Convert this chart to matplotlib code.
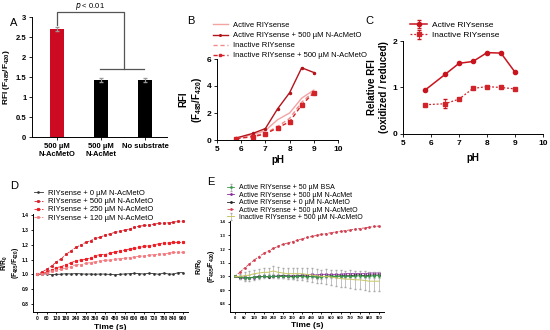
import numpy as np
import matplotlib
matplotlib.use('Agg')
import matplotlib.pyplot as plt

plt.rcParams['font.family'] = ['Liberation Sans', 'DejaVu Sans']
plt.rcParams['mathtext.default'] = 'regular'
plt.rcParams['axes.linewidth'] = 0.7
plt.rcParams['xtick.major.width'] = 0.6
plt.rcParams['ytick.major.width'] = 0.6
plt.rcParams['xtick.major.size'] = 2.5
plt.rcParams['ytick.major.size'] = 2.5

# ---- panel A data
a_labels = ['500 µM\nN-AcMetO', '500 µM\nN-AcMet', 'No substrate']
a_values = [2.70, 1.43, 1.43]
a_errors = [0.06, 0.05, 0.05]
a_colors = ['#cc0a22', 'black', 'black']

# ---- panel B data
ph = [5.8, 6.5, 7.0, 7.5, 8.0, 8.5, 9.0]
b_active = [0.15, 0.40, 0.70, 1.50, 2.00, 3.10, 3.70]
b_active_metO = [0.15, 0.50, 0.85, 2.30, 3.50, 5.35, 5.00]
b_inactive = [0.10, 0.30, 0.50, 1.00, 1.60, 2.80, 3.60]
b_inactive_metO = [0.10, 0.25, 0.45, 0.90, 1.35, 2.60, 3.50]

# ---- panel C data
c_active = [0.95, 1.28, 1.52, 1.56, 1.75, 1.74, 1.33]
c_active_err = [0.02, 0.02, 0.02, 0.02, 0.02, 0.02, 0.02]
c_inactive = [0.63, 0.65, 0.75, 0.98, 1.02, 1.00, 0.97]
c_inactive_err = [0.02, 0.10, 0.02, 0.02, 0.02, 0.02, 0.02]

# ---- panel D data (every 30 s)
time = list(range(0, 901, 30))
d_0 = [1.000, 1.002, 1.004, 0.998, 1.000, 1.002, 1.005, 1.003, 1.006, 1.004, 1.002,
       1.003, 1.001, 1.003, 1.002, 1.000, 0.998, 1.001, 1.003, 1.005, 1.008, 1.005,
       1.003, 1.008, 1.006, 1.001, 1.009, 1.003, 1.002, 1.012, 1.012]
d_500 = [1.000, 1.016, 1.034, 1.057, 1.085, 1.107, 1.137, 1.160, 1.183, 1.200, 1.217,
         1.229, 1.245, 1.252, 1.268, 1.275, 1.286, 1.293, 1.302, 1.308, 1.320, 1.327,
         1.332, 1.336, 1.341, 1.346, 1.348, 1.350, 1.355, 1.360, 1.361]
d_250 = [1.000, 1.007, 1.016, 1.030, 1.046, 1.053, 1.066, 1.080, 1.092, 1.098, 1.103,
         1.110, 1.126, 1.135, 1.135, 1.144, 1.153, 1.158, 1.165, 1.172, 1.176, 1.183,
         1.190, 1.195, 1.200, 1.208, 1.213, 1.213, 1.217, 1.217, 1.217]
d_120 = [1.000, 1.005, 1.011, 1.020, 1.027, 1.039, 1.041, 1.053, 1.066, 1.066, 1.075,
         1.080, 1.087, 1.092, 1.096, 1.098, 1.103, 1.107, 1.110, 1.114, 1.119, 1.123,
         1.126, 1.130, 1.135, 1.137, 1.140, 1.144, 1.149, 1.149, 1.151]

# ---- panel E data (every 30 s)
e_bsa = [1.000, 0.995, 0.990, 0.990, 0.995, 0.995, 1.000, 1.000, 1.000, 1.000, 1.000,
         1.000, 0.995, 1.000, 1.000, 0.995, 1.000, 0.995, 0.995, 1.000, 1.000, 1.000,
         1.000, 1.000, 1.000, 1.000, 1.005, 1.000, 1.000, 1.005, 1.005]
e_bsa_err = [0.000, 0.015, 0.020, 0.020, 0.020, 0.015, 0.015, 0.015, 0.015, 0.015, 0.015,
             0.015, 0.015, 0.015, 0.015, 0.015, 0.015, 0.015, 0.015, 0.015, 0.015, 0.015,
             0.015, 0.015, 0.015, 0.015, 0.015, 0.015, 0.015, 0.015, 0.015]
e_met = [1.000, 0.990, 0.985, 0.990, 0.990, 0.995, 1.000, 1.000, 1.000, 1.005, 1.005,
         1.005, 1.005, 1.005, 1.010, 1.010, 1.015, 1.010, 1.015, 1.015, 1.015, 1.015,
         1.015, 1.020, 1.020, 1.020, 1.020, 1.020, 1.025, 1.025, 1.025]
e_0 = [1.000, 0.995, 0.995, 0.990, 0.995, 1.000, 1.000, 0.995, 1.000, 1.000, 1.005,
       1.000, 1.000, 1.000, 1.005, 1.000, 1.000, 0.995, 1.000, 1.000, 1.005, 1.000,
       1.005, 1.005, 1.005, 1.010, 1.010, 1.005, 1.010, 1.010, 1.010]
e_metO = [1.000, 1.030, 1.062, 1.090, 1.120, 1.145, 1.168, 1.188, 1.205, 1.220, 1.235,
          1.245, 1.255, 1.265, 1.275, 1.285, 1.292, 1.300, 1.307, 1.313, 1.320, 1.325,
          1.330, 1.335, 1.340, 1.345, 1.350, 1.355, 1.360, 1.365, 1.368]
e_inact = [1.000, 1.000, 1.005, 1.010, 1.020, 1.025, 1.030, 1.030, 1.040, 1.030, 1.025,
           1.020, 1.020, 1.020, 1.020, 1.015, 1.010, 1.005, 1.000, 1.000, 0.995, 0.990,
           0.985, 0.980, 0.980, 0.975, 0.975, 0.970, 0.965, 0.965, 0.965]
e_inact_err = [0.000, 0.020, 0.030, 0.030, 0.030, 0.030, 0.030, 0.030, 0.035, 0.040, 0.040,
               0.040, 0.040, 0.045, 0.045, 0.045, 0.050, 0.050, 0.050, 0.055, 0.055, 0.060,
               0.060, 0.060, 0.065, 0.065, 0.065, 0.070, 0.070, 0.070, 0.070]


def style(ax, fs=6):
    ax.spines['top'].set_visible(False)
    ax.spines['right'].set_visible(False)
    ax.tick_params(labelsize=fs, pad=1.5)
    for lab in ax.get_xticklabels() + ax.get_yticklabels():
        lab.set_fontweight('bold')


fig = plt.figure(figsize=(5.5, 3.3), dpi=100)

def px(x0, y_top, x1, y_bot):
    # axes rect from pixel coordinates
    return [x0 / 550, 1 - y_bot / 330, (x1 - x0) / 550, (y_bot - y_top) / 330]

# ================= A
axA = fig.add_axes(px(32, 17, 167, 137))
xa = np.arange(len(a_values))
axA.bar(xa, a_values, width=0.32, color=a_colors, yerr=a_errors,
        error_kw=dict(ecolor='#999999', elinewidth=0.8, capsize=1.5))
axA.set_xlim(-0.57, 2.5)
axA.set_ylim(0, 3)
axA.set_yticks([0, 0.5, 1, 1.5, 2, 2.5, 3])
axA.set_yticklabels(['0', '0.5', '1', '1.5', '2', '2.5', '3'])
axA.set_xticks(xa)
axA.set_xticklabels(a_labels, fontsize=5.5)
axA.set_ylabel('RFI (F$_{485}$/F$_{420}$)', fontsize=6, fontweight='bold', labelpad=3)
style(axA, 5.5)
bc = '#555555'
axA.plot([0, 0, 1.52, 1.52], [2.8, 3.13, 3.13, 1.7], color=bc, lw=0.9, clip_on=False)
axA.plot([0.97, 1.98], [1.7, 1.7], color=bc, lw=0.9, clip_on=False)
axA.text(0.76, 3.27, '$\\it{p}$ < 0.01', ha='center', va='center', fontsize=5.5)
fig.text(10 / 550, 1 - 23 / 330, 'A', fontsize=8, va='center')

# ================= B
axB = fig.add_axes(px(217, 59, 338, 140))
axB.plot(ph, b_active, color='#f4a3a3', lw=1.0, label='Active RIYsense')
axB.plot(ph, b_active_metO, color='#b3141c', lw=1.0, marker='o', ms=1.5,
         label='Active RIYsense + 500 µM N-AcMetO')
axB.plot(ph, b_inactive, color='#f28a8a', lw=1.0, ls=(0, (3, 2)), label='Inactive RIYsense')
axB.plot(ph, b_inactive_metO, color='#d42328', lw=1.0, ls=(0, (3, 2)), marker='s', ms=2.5,
         label='Inactive RIYsense + 500 µM N-AcMetO')
axB.set_xlim(5, 10)
axB.set_ylim(0, 6)
axB.set_xticks([5, 6, 7, 8, 9, 10])
axB.set_yticks([0, 2, 4, 6])
axB.set_xlabel('pH', fontsize=7, fontweight='bold', labelpad=2)
axB.set_ylabel('RFI\n(F$_{485}$/F$_{420}$)', fontsize=7, fontweight='bold', labelpad=2)
style(axB, 6)
axB.legend(loc='upper left', bbox_to_anchor=(209 / 550, 1 - 18 / 330), bbox_transform=fig.transFigure,
           frameon=False, fontsize=5.5, handlelength=2.0, labelspacing=0.35, borderpad=0,
           handletextpad=0.6, markerscale=0.8)
fig.text(187 / 550, 1 - 21 / 330, 'B', fontsize=8, va='center')

# ================= C
axC = fig.add_axes(px(403, 41, 543, 134))
axC.errorbar(ph, c_active, yerr=c_active_err, color='#c8141e', lw=1.1, marker='o', ms=3,
             capsize=1.5, elinewidth=0.6, label='Active RIYsense')
axC.errorbar(ph, c_inactive, yerr=c_inactive_err, color='#d0242a', lw=0.9, ls=(0, (1.5, 1.5)),
             marker='s', ms=3, capsize=1.5, elinewidth=0.6, ecolor='#c8141e',
             label='Inactive RIYsense')
axC.set_xlim(5, 10)
axC.set_ylim(0, 2)
axC.set_xticks([5, 6, 7, 8, 9, 10])
axC.set_yticks([0, 1, 2])
axC.set_xlabel('pH', fontsize=7, fontweight='bold', labelpad=5)
axC.set_ylabel('Relative RFI\n(oxidized / reduced)', fontsize=7, fontweight='bold', labelpad=3)
style(axC, 6)
axC.legend(loc='upper left', bbox_to_anchor=(406 / 550, 1 - 17 / 330), bbox_transform=fig.transFigure,
           frameon=False, fontsize=6, handlelength=2.0, labelspacing=0.3, borderpad=0,
           handletextpad=0.6)
fig.text(365 / 550, 1 - 21 / 330, 'C', fontsize=8, va='center')

# ================= D
axD = fig.add_axes(px(33, 214, 188, 312))
axD.plot(time, d_0, color='#333333', lw=0.6, marker='o', ms=0.9, label='RIYsense + 0 µM N-AcMetO')
axD.plot(time, d_500, color='#d8202a', lw=0.6, ls=(0, (3, 1.5)), marker='s', ms=1.1,
         label='RIYsense + 500 µM N-AcMetO')
axD.plot(time, d_250, color='#ee1c24', lw=0.6, ls=(0, (3, 1.5)), marker='s', ms=1.3,
         label='RIYsense + 250 µM N-AcMetO')
axD.plot(time, d_120, color='#f47a80', lw=0.6, ls=(0, (3, 1.5)), marker='s', ms=1.1,
         label='RIYsense + 120 µM N-AcMetO')
axD.set_xlim(-24, 930)
axD.set_ylim(0.745, 1.41)
axD.set_xticks(range(0, 901, 60))
axD.set_yticks([0.8, 0.9, 1.0, 1.1, 1.2, 1.3, 1.4])
axD.set_yticklabels(['0.8', '0.9', '1.0', '1.1', '1.2', '1.3', '1.4'])
axD.tick_params(length=1.5)
axD.set_xlabel('Time (s)', fontsize=6, fontweight='bold', labelpad=2)
axD.set_ylabel('R/R$_0$\n(F$_{485}$/F$_{420}$)', fontsize=4.8, fontweight='bold',
               linespacing=1.0)
axD.yaxis.set_label_coords(-0.08, 0.5)
style(axD, 3.5)
axD.legend(loc='upper left', bbox_to_anchor=(30 / 550, 1 - 186 / 330), bbox_transform=fig.transFigure,
           frameon=False, fontsize=5.5, handlelength=1.2, labelspacing=0.1, borderpad=0,
           handletextpad=0.7)
fig.text(10 / 550, 1 - 186 / 330, 'D', fontsize=8, va='center')

# ================= E
axE = fig.add_axes(px(230, 221, 384, 312))
ek = dict(elinewidth=0.5, capsize=1.0, ecolor='#aaaaaa')
h_bsa = axE.errorbar(time, e_bsa, yerr=e_bsa_err, color='#3a9a4a', lw=0.6, marker='o', ms=1.0, **ek)
h_met, = axE.plot(time, e_met, color='#8a2a9a', lw=0.6, marker='o', ms=1.0)
h_0, = axE.plot(time, e_0, color='#222222', lw=0.6, marker='o', ms=1.0)
h_metO, = axE.plot(time, e_metO, color='#d04050', lw=0.6, ls=(0, (3, 1.5)), marker='o', ms=1.0)
h_in = axE.errorbar(time, e_inact, yerr=e_inact_err, color='#c8c860', lw=0.7, **ek)
axE.set_xlim(-31, 931)
axE.set_ylim(0.74, 1.405)
axE.set_xticks(range(0, 901, 60))
axE.set_yticks([0.8, 0.9, 1.0, 1.1, 1.2, 1.3, 1.4])
axE.set_yticklabels(['0.8', '0.9', '1.0', '1.1', '1.2', '1.3', '1.4'])
axE.tick_params(length=1.5)
axE.set_xlabel('Time (s)', fontsize=6, fontweight='bold', labelpad=1)
axE.set_ylabel('R/R$_0$\n(F$_{485}$/F$_{420}$)', fontsize=5, fontweight='bold', labelpad=2,
               linespacing=1.1)
style(axE, 3.0)
axE.legend([h_bsa, h_met, h_0, h_metO, h_in],
           ['Active RIYsense + 50 µM BSA', 'Active RIYsense + 500 µM N-AcMet',
            'Active RIYsense + 0 µM N-AcMetO', 'Active RIYsense + 500 µM N-AcMetO',
            'Inactive RIYsense + 500 µM N-AcMetO'],
           loc='upper left', bbox_to_anchor=(224 / 550, 1 - 181 / 330), bbox_transform=fig.transFigure,
           frameon=False, fontsize=5, handlelength=1.0, labelspacing=0.05, borderpad=0,
           handletextpad=0.6)
fig.text(207 / 550, 1 - 182 / 330, 'E', fontsize=8, va='center')

fig.savefig('out.png', dpi=100)
